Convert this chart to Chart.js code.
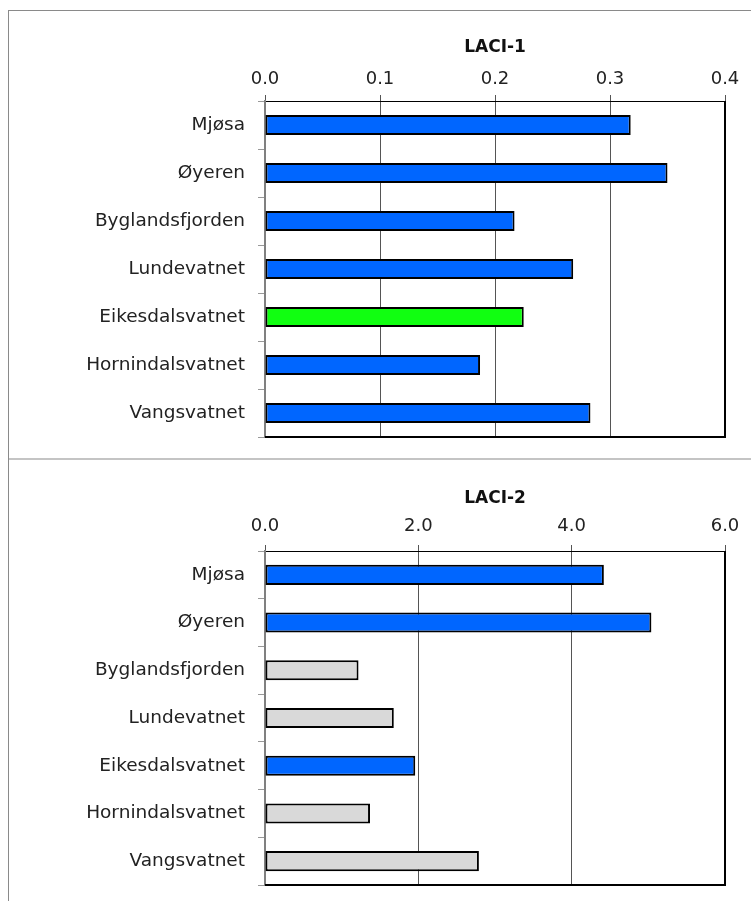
<!DOCTYPE html>
<html lang="no">
<head>
<meta charset="UTF-8">
<title>LACI-1 / LACI-2</title>
<style>
    body {
        margin: 0;
        padding: 0;
        background: #fff;
        width: 751px;
        height: 901px;
        position: relative;
        overflow: hidden;
        font-family: "DejaVu Sans", sans-serif;
    }
    .frame-left { position: absolute; left: 8px; top: 10px; width: 1px; height: 891px; background: #8a8a8a; }
    .frame-top { position: absolute; left: 8px; top: 10px; width: 743px; height: 1px; background: #8a8a8a; }
    .divider { position: absolute; left: 9px; top: 458px; width: 742px; height: 2px; background: #c4c4c4; }
    .panel { position: absolute; left: 10px; }
    #p1 { top: 11px; width: 741px; height: 447px; }
    #p2 { top: 460px; width: 741px; height: 441px; }
</style>
</head>
<body>
<div class="frame-left"></div>
<div class="frame-top"></div>
<div class="divider"></div>
<div class="panel" id="p1"><canvas id="laci1"></canvas></div>
<div class="panel" id="p2"><canvas id="laci2"></canvas></div>

<script src="https://cdn.jsdelivr.net/npm/chart.js"></script>
<script>
// innsjøer
const lakes = ['Mjøsa', 'Øyeren', 'Byglandsfjorden', 'Lundevatnet', 'Eikesdalsvatnet', 'Hornindalsvatnet', 'Vangsvatnet'];

// LACI-1
const laci1Values = [0.318, 0.350, 0.217, 0.268, 0.225, 0.187, 0.283];
const laci1Ticks = ['0.0', '0.1', '0.2', '0.3', '0.4'];

// LACI-2
const laci2Values = [4.42, 5.04, 1.22, 1.68, 1.96, 1.37, 2.79];
const laci2Ticks = ['0.0', '2.0', '4.0', '6.0'];

const BLUE = '#0066ff', GREEN = '#11ff11', GREY = '#d9d9d9';
const laci1Colors = [BLUE, BLUE, BLUE, BLUE, GREEN, BLUE, BLUE];
const laci2Colors = [BLUE, BLUE, GREY, GREY, BLUE, GREY, GREY];

// right + bottom edge of the plot box
const boxPlugin = {
    id: 'box',
    afterDraw(chart) {
        const a = chart.chartArea, c = chart.ctx;
        c.save();
        c.strokeStyle = '#000';
        c.lineWidth = 2;
        c.beginPath();
        c.moveTo(a.right, a.top);
        c.lineTo(a.right, a.bottom);
        c.lineTo(a.left, a.bottom);
        c.stroke();
        c.restore();
    }
};

function makeChart(id, title, values, colors, ticks, max, step, o) {
    return new Chart(document.getElementById(id), {
        type: 'bar',
        data: {
            labels: lakes,
            datasets: [{
                data: values,
                backgroundColor: colors,
                borderColor: '#000',
                borderWidth: 2,
                borderSkipped: false,
                barPercentage: 0.42,
                categoryPercentage: 1
            }]
        },
        options: {
            indexAxis: 'y',
            responsive: true,
            maintainAspectRatio: false,
            animation: false,
            layout: { padding: { top: 0, right: 26, bottom: o.bottom, left: 0 } },
            plugins: { legend: { display: false }, tooltip: { enabled: false } },
            scales: {
                x: {
                    position: 'top',
                    min: 0,
                    max: max,
                    afterFit: (s) => { s.height = o.axisH; },
                    ticks: {
                        stepSize: step,
                        padding: o.tickPad,
                        color: '#222',
                        font: { family: 'DejaVu Sans', size: 18 },
                        maxRotation: 0,
                        callback: (v, i) => ticks[i]
                    },
                    grid: { color: '#555', lineWidth: 1, tickLength: 6 },
                    border: { color: '#000', width: 1 },
                    title: {
                        display: true,
                        text: title,
                        color: '#111',
                        padding: { top: o.titlePad, bottom: 0 },
                        font: { family: 'DejaVu Sans', size: 17, weight: 'bold' }
                    }
                },
                y: {
                    afterFit: (s) => {
                        s.width = 255;
                        s.paddingTop = 0;
                        s.paddingBottom = 0;
                    },
                    ticks: {
                        padding: 13,
                        color: '#222',
                        font: { family: 'DejaVu Sans', size: 18.5 }
                    },
                    grid: { display: true, drawOnChartArea: false, color: '#999', tickLength: 7, offset: true },
                    border: { color: '#808080', width: 2 }
                }
            }
        },
        plugins: [boxPlugin]
    });
}

makeChart('laci1', 'LACI-1', laci1Values, laci1Colors, laci1Ticks, 0.4, 0.1,
    { axisH: 90, tickPad: 5, titlePad: 26.5, bottom: 21 });
makeChart('laci2', 'LACI-2', laci2Values, laci2Colors, laci2Ticks, 6, 2,
    { axisH: 91, tickPad: 8, titlePad: 28, bottom: 16 });
</script>
</body>
</html>
